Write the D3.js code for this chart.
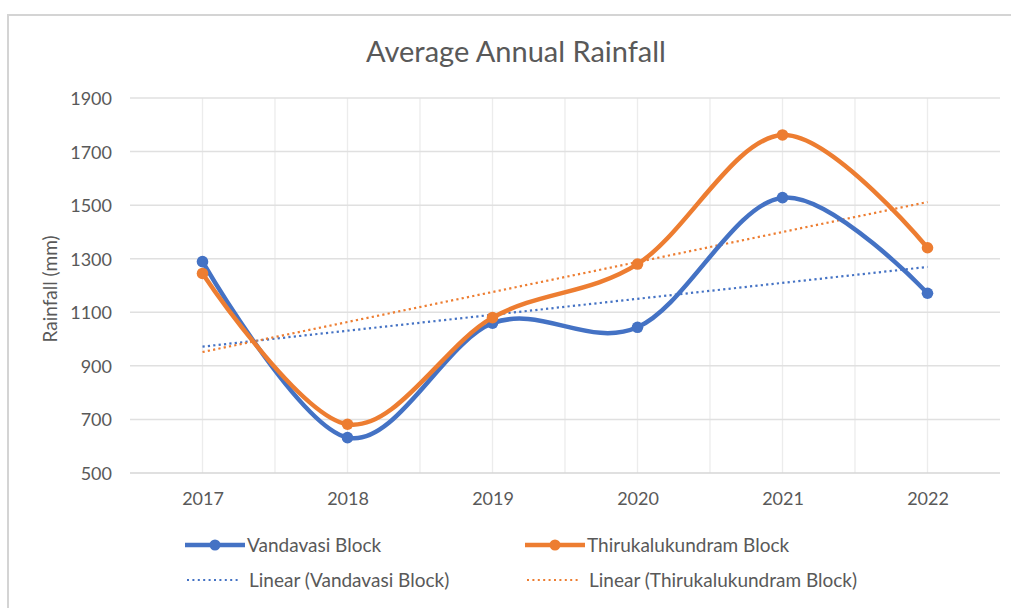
<!DOCTYPE html>
<html>
<head>
<meta charset="utf-8">
<script src="https://cdn.jsdelivr.net/npm/d3@7"></script>
<style>
  html, body { margin: 0; padding: 0; background: #fff; }
  svg { display: block; font-family: Lato, "Open Sans", sans-serif; }
</style>
</head>
<body>
<svg id="chart" width="1011" height="608"></svg>
<script>
// Average annual rainfall (mm) per block
const years = ["2017", "2018", "2019", "2020", "2021", "2022"];
const vandavasi = [1289, 632, 1059, 1044, 1528, 1171];
const thirukalukundram = [1245, 682, 1080, 1280, 1762, 1341];
const yTicks = [500, 700, 900, 1100, 1300, 1500, 1700, 1900];

const seriesNames = ["Vandavasi Block", "Thirukalukundram Block"];
const colors = ["#4472C4", "#ED7D31"];
const textColor = "#595959";

const svg = d3.select("#chart");
const W = 1011, H = 608;
const plot = { left: 130, right: 1000, top: 98, bottom: 473 };

// chart frame
svg.append("path")
  .attr("d", `M8,${H} L8,15 L${W},15`)
  .attr("fill", "none").attr("stroke", "#d4d4d4").attr("stroke-width", 2);

const x = d3.scalePoint().domain(years)
  .range([plot.left, plot.right]).padding(0.5);
const y = d3.scaleLinear().domain([500, 1900]).range([plot.bottom, plot.top]);
const step = x.step();

// vertical gridlines at every category and between categories
const vLines = [];
years.forEach((yr, i) => {
  vLines.push(x(yr));
  if (i < years.length - 1) vLines.push(x(yr) + step / 2);
});
svg.append("g").selectAll("line").data(vLines).join("line")
  .attr("x1", d => d).attr("x2", d => d)
  .attr("y1", plot.top).attr("y2", plot.bottom)
  .attr("stroke", "#ececec").attr("stroke-width", 1.3);

// horizontal gridlines
svg.append("g").selectAll("line").data(yTicks).join("line")
  .attr("x1", plot.left).attr("x2", plot.right)
  .attr("y1", d => y(d)).attr("y2", d => y(d))
  .attr("stroke", d => d === 500 ? "#d6d6d6" : "#e0e0e0")
  .attr("stroke-width", d => d === 500 ? 1.6 : 1.5);

// y axis labels
const yAxis = d3.axisLeft(y).tickValues(yTicks).tickFormat(d3.format("d"))
  .tickSize(0).tickPadding(0);
const gy = svg.append("g").attr("transform", `translate(112,0)`).call(yAxis);
gy.select(".domain").remove();
gy.selectAll("text").attr("font-size", 18).attr("fill", textColor)
  .attr("font-family", "Lato, sans-serif").attr("dy", "0.36em");

// x axis labels
const xAxis = d3.axisBottom(x).tickSize(0).tickPadding(0);
const gx = svg.append("g").attr("transform", `translate(0,${plot.bottom + 26})`).call(xAxis);
gx.select(".domain").remove();
gx.selectAll("text").attr("font-size", 18).attr("fill", textColor)
  .attr("font-family", "Lato, sans-serif").attr("dy", "0.36em");

// titles
svg.append("text").attr("x", 516).attr("y", 62).attr("text-anchor", "middle")
  .attr("font-size", 29).attr("fill", textColor).text("Average Annual Rainfall");
svg.append("text").attr("transform", `translate(57,289) rotate(-90)`)
  .attr("text-anchor", "middle").attr("font-size", 19).attr("fill", textColor)
  .text("Rainfall (mm)");

// least-squares trend for a series over category index 1..n
function trend(vals) {
  const n = vals.length;
  const xs = vals.map((_, i) => i + 1);
  const mx = d3.mean(xs), my = d3.mean(vals);
  const b = d3.sum(xs.map((xi, i) => (xi - mx) * (vals[i] - my))) /
            d3.sum(xs.map(xi => (xi - mx) ** 2));
  const a = my - b * mx;
  return [a + b * 1, a + b * n];
}

const allSeries = [vandavasi, thirukalukundram];

// trend lines (dotted)
allSeries.forEach((vals, k) => {
  const [y0, y1] = trend(vals);
  svg.append("line")
    .attr("x1", x(years[0])).attr("y1", y(y0))
    .attr("x2", x(years[years.length - 1])).attr("y2", y(y1))
    .attr("stroke", colors[k]).attr("stroke-width", 2.2)
    .attr("stroke-dasharray", "2.2 3.2");
});

// smoothed data lines with markers
const line = d3.line().x((d, i) => x(years[i])).y(d => y(d))
  .curve(d3.curveCardinal.tension(0));
allSeries.forEach((vals, k) => {
  svg.append("path").datum(vals).attr("d", line)
    .attr("fill", "none").attr("stroke", colors[k])
    .attr("stroke-width", 4.5).attr("stroke-linecap", "round");
  svg.append("g").selectAll("circle").data(vals).join("circle")
    .attr("cx", (d, i) => x(years[i])).attr("cy", d => y(d))
    .attr("r", 5.8).attr("fill", colors[k]);
});

// legend
const legend = [
  { x: 185, y: 545, k: 0, label: seriesNames[0], dotted: false },
  { x: 525, y: 545, k: 1, label: seriesNames[1], dotted: false },
  { x: 185, y: 580, k: 0, label: "Linear (" + seriesNames[0] + ")", dotted: true },
  { x: 525, y: 580, k: 1, label: "Linear (" + seriesNames[1] + ")", dotted: true }
];
legend.forEach(l => {
  const g = svg.append("g");
  if (l.dotted) {
    g.append("line").attr("x1", l.x + 2).attr("x2", l.x + 56)
      .attr("y1", l.y).attr("y2", l.y).attr("stroke", colors[l.k])
      .attr("stroke-width", 2).attr("stroke-dasharray", "2 3.4");
  } else {
    g.append("line").attr("x1", l.x).attr("x2", l.x + 60)
      .attr("y1", l.y).attr("y2", l.y).attr("stroke", colors[l.k])
      .attr("stroke-width", 4.5);
    g.append("circle").attr("cx", l.x + 30).attr("cy", l.y).attr("r", 5.5)
      .attr("fill", colors[l.k]);
  }
  g.append("text").attr("x", l.x + (l.dotted ? 64 : 62)).attr("y", l.y)
    .attr("dy", "0.36em").attr("font-size", 19).attr("fill", textColor)
    .text(l.label);
});
</script>
</body>
</html>
